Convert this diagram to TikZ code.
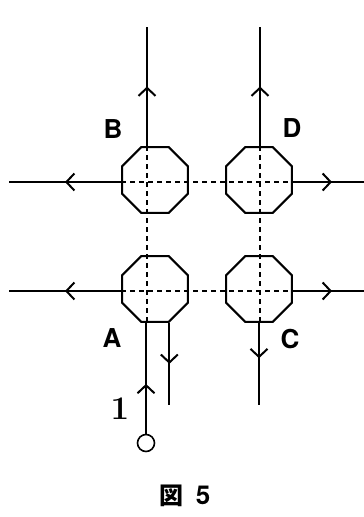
\documentclass[tikz,border=0pt]{standalone}
\usepackage{fontspec}
\setsansfont{TeX Gyre Heros}
\newfontfamily\cjk{Noto Sans CJK JP}
\usetikzlibrary{shapes.geometric,arrows.meta,decorations.markings}

\tikzset{
  junction/.style={draw, regular polygon, regular polygon sides=8,
    minimum size=71.4pt, inner sep=0pt, line width=2pt},
  flow/.style={line width=2pt, postaction={decorate},
    decoration={markings, mark=at position #1 with
      {\arrow{Straight Barb[length=8pt,width=17pt]}}}},
  flow/.default=0.5,
  grid/.style={line width=1.7pt, dash pattern=on 5pt off 4pt},
  tag/.style={font=\sffamily\bfseries\fontsize{26}{26}\selectfont, inner sep=0pt}
}

\begin{document}
\begin{tikzpicture}[x=1pt,y=-1pt]
\useasboundingbox (0,0) rectangle (364,517);

% junctions
\node[junction] (A) at (155,289) {};
\node[junction] (B) at (155,180) {};
\node[junction] (C) at (259,289) {};
\node[junction] (D) at (259,180) {};

% ends of the lines
\coordinate (lt) at (9,182);
\coordinate (lb) at (9,291);
\coordinate (rt) at (364,182);
\coordinate (rb) at (364,291);
\coordinate (tl) at (147,27);
\coordinate (tr) at (260,27);
\coordinate (cend) at (0,405);
\node[draw, circle, line width=1.6pt, minimum size=17pt, inner sep=0pt] (src) at (146,443) {};

% dashed grid
\draw[grid] (B.west |- lt) -- (D.east |- rt);
\draw[grid] (A.west |- lb) -- (C.east |- rb);
\draw[grid] (tl |- B.north) -- (tl |- A.south);
\draw[grid] (tr |- D.north) -- (tr |- C.south);

% flows
\draw[flow] (B.west |- lt) -- (lt);
\draw[flow] (A.west |- lb) -- (lb);
\draw[flow=0.55] (D.east |- rt) -- (rt);
\draw[flow=0.55] (C.east |- rb) -- (rb);
\draw[flow] (tl |- B.north) -- (tl);
\draw[flow] (tr |- D.north) -- (tr);
\draw[flow=0.45] (src) -- (src |- A.south);
\draw[flow] (A.-67.5) -- (A.-67.5 |- cend);
\draw[flow=0.43] (C.south) -- (C.south |- cend);

% labels
\node[tag] (lblA) at (112,338) {A};
\node[tag] (lblB) at (113,129) {B};
\node[tag] (lblC) at (290,339) {C};
\node[tag] (lblD) at (292,128) {D};
\node[font=\bfseries\fontsize{33}{33}\selectfont, inner sep=0pt] (lbl1) at (120,409) {1};
\node[inner sep=0pt] (title) at (185,496)
  {{\cjk\bfseries\fontsize{24}{24}\selectfont 図}\hspace{12pt}{\sffamily\bfseries\fontsize{26}{26}\selectfont 5}};
\end{tikzpicture}
\end{document}
